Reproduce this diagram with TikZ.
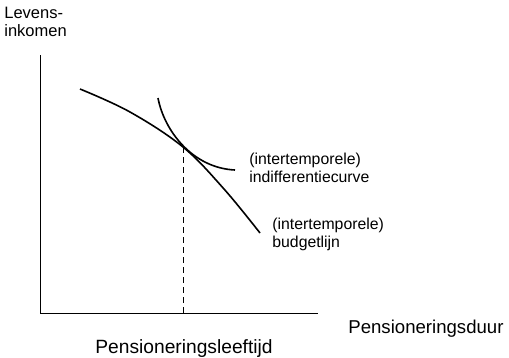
\documentclass[tikz,border=0pt]{standalone}
\usepackage{fontspec}
\setmainfont{Liberation Sans}
\def\lw{0.8pt}
\def\fs{\fontsize{15.8}{18}\selectfont}
\def\fsas{\fontsize{16.5}{18}\selectfont}

\begin{document}
\begin{tikzpicture}[x=1pt,y=-1pt,line width=\lw,
    lbl/.style={anchor=west,inner sep=0pt,align=left,font=\fs}]
    \useasboundingbox (0,0) rectangle (509,357);
    \coordinate (top) at (40,55);
    \coordinate (origin) at (40,313);
    \coordinate (xend) at (318,313);
    \coordinate (raak) at (183,147);
    \coordinate (raakvoet) at (183,313);
    % assen
    \draw[line width=0.9pt] (top) -- (origin) -- (xend);
    \draw[line width=0.9pt,dash pattern=on 6pt off 4pt] (raak) -- (raakvoet);
    % budgetlijn en indifferentiecurve
    \draw[line width=1.6pt] plot[smooth,tension=0.6] coordinates {(80,89) (130,112) (raak) (224,189) (260,233)};
    \draw[line width=1.6pt] (158,98) .. controls (164,130) and (192,168) .. (235,170);
    % teksten
    \node[lbl,font=\fsas] (yas) at (4,22) {Levens-\\inkomen};
    \node[lbl] (indiff) at (249,168) {(intertemporele)\\indifferentiecurve};
    \node[lbl] (budget) at (272,234) {(intertemporele)\\budgetlijn};
    \node[lbl,anchor=base west,font=\fontsize{18.6}{22}\selectfont] (xas) at (348,333) {Pensioneringsduur};
    \node[lbl,anchor=base,font=\fontsize{19.2}{22}\selectfont] (leeftijd) at (184,353) {Pensioneringsleeftijd};
\end{tikzpicture}
\end{document}
